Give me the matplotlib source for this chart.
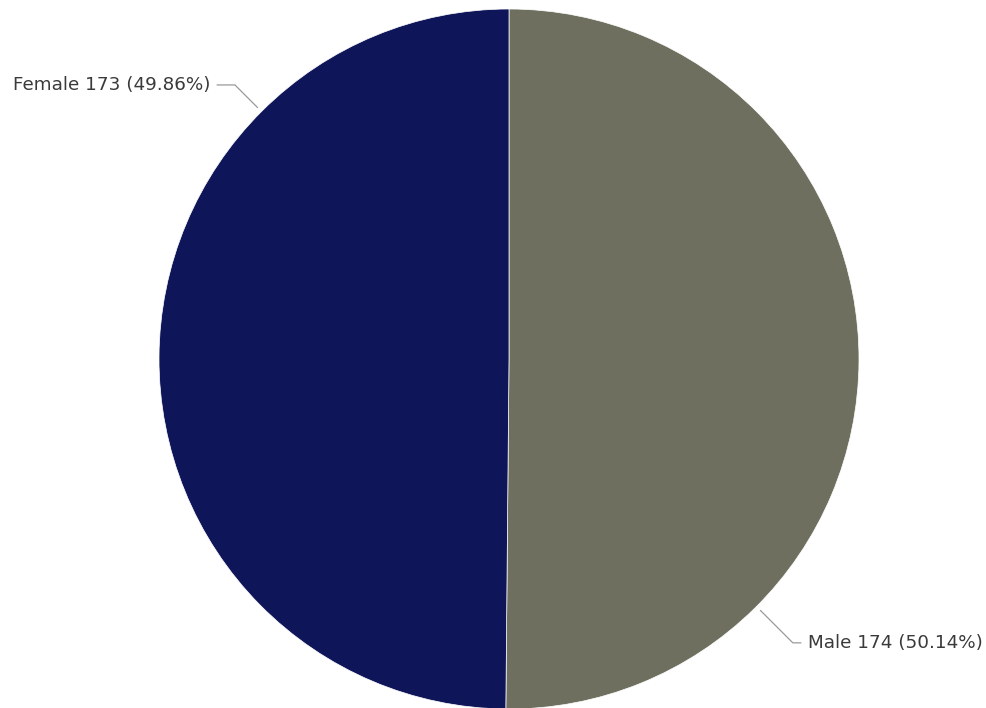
import numpy as np
import matplotlib
matplotlib.use('Agg')
import matplotlib.pyplot as plt

labels = ['Male', 'Female']
counts = [174, 173]
colors = ['#6e6f5e', '#0e1558']

total = sum(counts)
fig = plt.figure(figsize=(9.86, 7.08), dpi=100)
# pie center at (509, 359) px, radius 350 px
ax = fig.add_axes([159 / 986, (708 - 359 - 350) / 708, 700 / 986, 700 / 708])
ax.pie(counts, colors=colors, startangle=90, counterclock=False, radius=1.0,
       wedgeprops=dict(edgecolor='white', linewidth=0.5))
ax.set_xlim(-1, 1)
ax.set_ylim(-1, 1)
ax.set_aspect('equal')
ax.axis('off')

# label placement (angle on the rim, text position, alignment)
spots = {'Male': (-45, (0.854, -0.811), 'left'),
         'Female': (135, (-0.854, 0.783), 'right')}
for lab, n in zip(labels, counts):
    ang, txy, ha = spots[lab]
    rim = (np.cos(np.radians(ang)), np.sin(np.radians(ang)))
    ax.annotate(f'{lab} {n} ({n / total * 100:.2f}%)', xy=rim, xytext=txy,
                ha=ha, va='center', fontsize=13.2, color='#3a3a3a',
                annotation_clip=False,
                arrowprops=dict(arrowstyle='-', color='#9a9a9a', lw=0.9,
                                shrinkA=3, shrinkB=4,
                                connectionstyle=f'angle,angleA=0,angleB={ang}'))

fig.savefig('out.png', dpi=100, facecolor='white')
